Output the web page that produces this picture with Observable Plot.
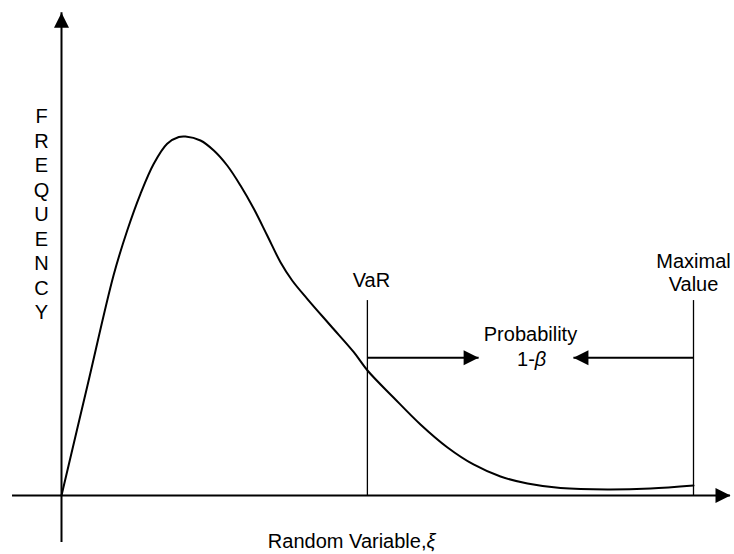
<!DOCTYPE html>
<html><head><meta charset="utf-8">
<script src="https://cdn.jsdelivr.net/npm/d3@7"></script>
<script src="https://cdn.jsdelivr.net/npm/@observablehq/plot@0.6"></script>
<style>body{margin:0;background:#fff}</style>
</head><body><div id="chart"></div>
<script>
// Curve: random variable (xi) vs frequency, in arbitrary units (maximal value = 100, peak = 100)
const xi   = [0, 4.11, 8.23, 10.40, 12.50, 14.60, 16.72, 18.56, 19.62, 21.99, 24.10, 26.22, 28.32, 30.43, 32.55, 34.65, 36.50, 38.88, 42.56, 46.25, 48.42, 52.53, 56.80, 61.08, 65.19, 69.46, 73.73, 78.96, 86.39, 93.20, 100];
const freq = [0, 30.64, 61.28, 73.82, 84.04, 92.40, 97.97, 99.86, 100, 98.89, 96.10, 91.92, 86.35, 79.86, 72.42, 64.99, 59.89, 54.79, 47.35, 39.92, 34.82, 27.30, 19.78, 13.37, 8.64, 5.29, 3.34, 2.09, 1.67, 1.95, 2.79];
const varValue = 48.4;
const maxValue = 100;
const markerHeight = 54.3;
const probArrowLevel = 38.4;
const probArrowTips = [66.0, 81.0];
const xAxisExtent = [-7.75, 105.85];
const yAxisExtent = [-13.1, 134.5];
const yLabel = "FREQUENCY";
const xLabel = "Random Variable,";
const xLabelSymbol = "ξ";
const probLabel = "Probability";
const probLabel2 = "1-";
const probSymbol = "β";
const varLabel = "VaR";
const maxLabel = "Maximal\nValue";

const curve = xi.map((x, i) => ({x, y: freq[i]}));
const arrowHead = {draw(ctx) { ctx.moveTo(0, 0); ctx.lineTo(-15, -7.5); ctx.lineTo(-15, 7.5); ctx.closePath(); }};
const heads = [
  {x: xAxisExtent[1], y: 0, r: 0},
  {x: 0, y: yAxisExtent[1], r: -90},
  {x: probArrowTips[0], y: probArrowLevel, r: 0},
  {x: probArrowTips[1], y: probArrowLevel, r: 180}
];
const arrows = [
  {x1: varValue, x2: probArrowTips[0]},
  {x1: maxValue, x2: probArrowTips[1]}
];
const font = {fontSize: 20, fill: "black"};

const chart = Plot.plot({
  width: 734, height: 554,
  marginTop: 0, marginRight: 0, marginBottom: 0, marginLeft: 0,
  x: {domain: [-9.652, 106.487], axis: null},
  y: {domain: [-16.43, 137.88], axis: null},
  style: {fontFamily: "'Liberation Sans', Arial, sans-serif", fontSize: "20px", color: "black", background: "white"},
  marks: [
    Plot.ruleY([0], {x1: xAxisExtent[0], x2: xAxisExtent[1], stroke: "black", strokeWidth: 2}),
    Plot.ruleX([0], {y1: yAxisExtent[0], y2: yAxisExtent[1], stroke: "black", strokeWidth: 2}),
    Plot.ruleX([varValue, maxValue], {y1: 0, y2: markerHeight, stroke: "black", strokeWidth: 1.3}),
    Plot.link(arrows, {x1: "x1", x2: "x2", y1: probArrowLevel, y2: probArrowLevel, stroke: "black", strokeWidth: 2}),
    Plot.line(curve, {x: "x", y: "y", curve: "catmull-rom", stroke: "black", strokeWidth: 2}),
    Plot.dot(heads, {x: "x", y: "y", rotate: "r", symbol: arrowHead, fill: "black", stroke: "none", r: 8}),
    Plot.text([yLabel.split("").join("\n")], {x: -3.16, y: 78.6, text: d => d, lineHeight: 1.225, ...font}),
    Plot.text([varLabel], {x: varValue, y: 59.75, dx: 4, text: d => d, ...font}),
    Plot.text([maxLabel], {x: maxValue, y: 62.2, text: d => d, lineHeight: 1.15, ...font}),
    Plot.text([probLabel], {x: 74.2, y: 44.8, text: d => d, ...font}),
    Plot.text([probLabel2], {x: 74.9, y: 37.8, text: d => d, textAnchor: "end", ...font}),
    Plot.text([probSymbol], {x: 74.9, y: 37.8, text: d => d, textAnchor: "start", fontStyle: "italic", ...font}),
    Plot.text([xLabel], {x: 57.75, y: -12.76, text: d => d, textAnchor: "end", ...font}),
    Plot.text([xLabelSymbol], {x: 57.75, y: -12.76, text: d => d, textAnchor: "start", fontStyle: "italic", ...font})
  ]
});
document.getElementById("chart").appendChild(chart);
</script>
</body></html>
